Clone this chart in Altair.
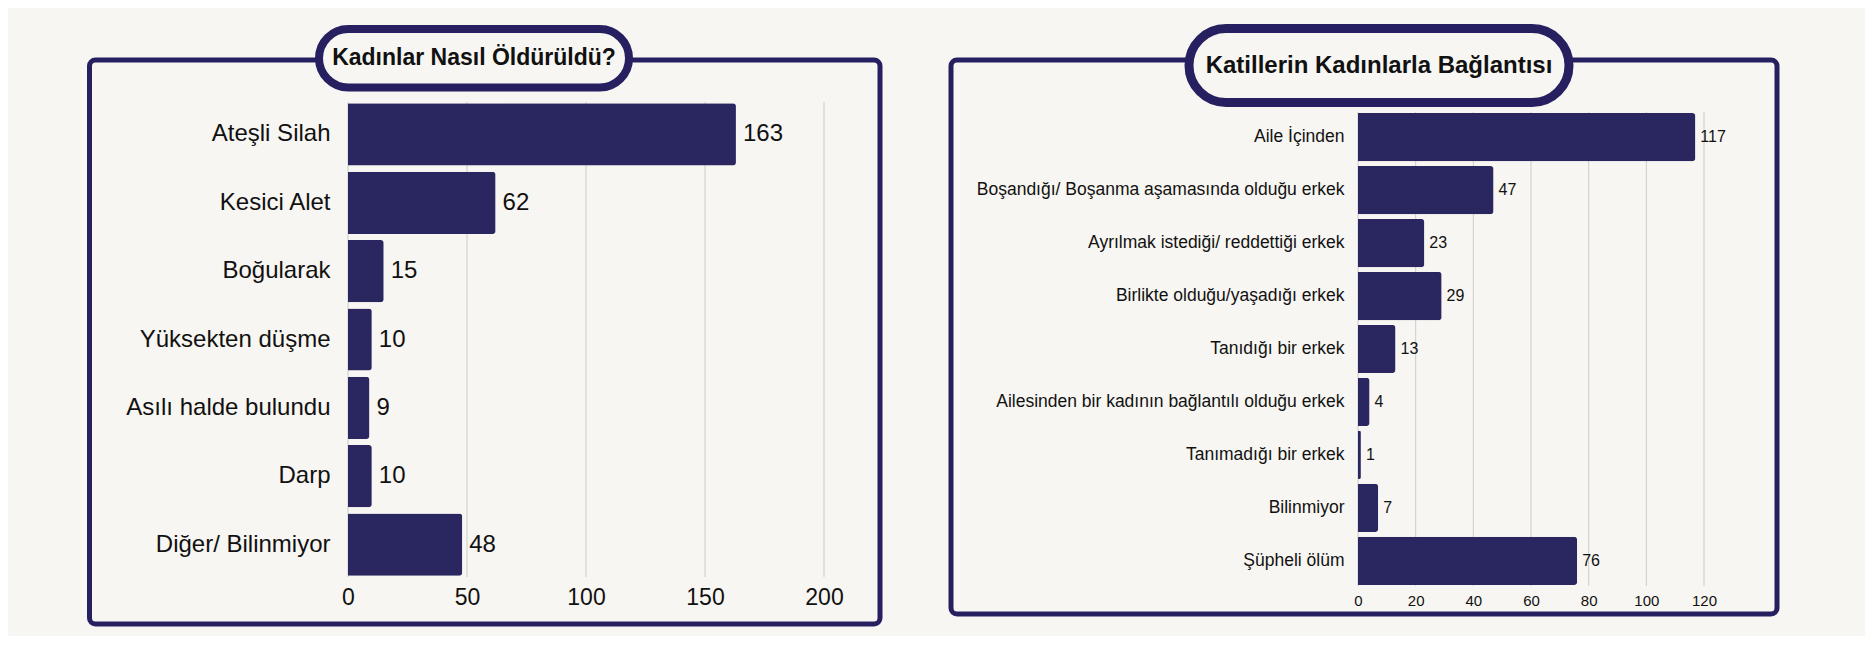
import altair as alt
import pandas as pd

# ---- data ----
methods = ["Ateşli Silah", "Kesici Alet", "Boğularak", "Yüksekten düşme",
           "Asılı halde bulundu", "Darp", "Diğer/ Bilinmiyor"]
method_counts = [163, 62, 15, 10, 9, 10, 48]

relations = ["Aile İçinden",
             "Boşandığı/ Boşanma aşamasında olduğu erkek",
             "Ayrılmak istediği/ reddettiği erkek",
             "Birlikte olduğu/yaşadığı erkek",
             "Tanıdığı bir erkek",
             "Ailesinden bir kadının bağlantılı olduğu erkek",
             "Tanımadığı bir erkek",
             "Bilinmiyor",
             "Şüpheli ölüm"]
relation_counts = [117, 47, 23, 29, 13, 4, 1, 7, 76]

left_ticks = [0, 50, 100, 150, 200]
right_ticks = [0, 20, 40, 60, 80, 100, 120]

left_title = "Kadınlar Nasıl Öldürüldü?"
right_title = "Katillerin Kadınlarla Bağlantısı"

BG = "#f8f6f2"
NAVY = "#2a2660"
BORDER = "#261f60"
LABEL_FONT = "Liberation Sans Narrow, Liberation Sans"
TITLE_FONT = "Liberation Sans"


def panel(cats, vals, ticks, title, w, h, yrange, box, pill, title_pos,
          title_size, label_size, tick_size, value_size, label_pad,
          tick_pad, value_dx, pill_stroke):
    df = pd.DataFrame({"cat": cats, "val": vals})
    tdf = pd.DataFrame({"val": ticks})
    xscale = alt.Scale(domain=[ticks[0], ticks[-1]], nice=False)
    xaxis = alt.Axis(values=ticks, title=None, grid=False, domain=False, ticks=False,
                     labelFont=LABEL_FONT, labelFontSize=tick_size,
                     labelColor="#111111", labelPadding=tick_pad, labelFlush=False)
    x = alt.X("val:Q", scale=xscale, axis=xaxis)
    y = alt.Y("cat:N", sort=cats,
              scale=alt.Scale(range=yrange, paddingInner=0.09, paddingOuter=0.02),
              axis=alt.Axis(title=None, domain=False, ticks=False, grid=False,
                            labelFont=LABEL_FONT, labelFontSize=label_size,
                            labelColor="#111111", labelPadding=label_pad,
                            labelLimit=600))
    one = alt.Data(values=[{"t": title}])
    frame = alt.Chart(one).mark_rect(filled=False, stroke=BORDER, strokeWidth=5,
                                     cornerRadius=6).encode(
        x=alt.value(box[0]), x2=alt.value(box[1]),
        y=alt.value(box[2]), y2=alt.value(box[3]))
    grid = alt.Chart(tdf).mark_rule(color="#cccccc", strokeWidth=1).encode(
        x=x, y=alt.value(yrange[0]), y2=alt.value(yrange[1]))
    bars = alt.Chart(df).mark_bar(color=NAVY, cornerRadiusEnd=3).encode(x=x, y=y)
    labels = alt.Chart(df).mark_text(align="left", baseline="middle", dx=value_dx,
                                     font=LABEL_FONT, fontSize=value_size,
                                     color="#111111").encode(
        x=x, y=y, text="val:Q")
    pill_rect = alt.Chart(one).mark_rect(fill=BG, stroke=BORDER,
                                         strokeWidth=pill_stroke,
                                         cornerRadius=(pill[3] - pill[2]) / 2).encode(
        x=alt.value(pill[0]), x2=alt.value(pill[1]),
        y=alt.value(pill[2]), y2=alt.value(pill[3]))
    pill_text = alt.Chart(one).mark_text(font=TITLE_FONT, fontWeight="bold",
                                         fontSize=title_size, color="#111111",
                                         align="center", baseline="middle").encode(
        x=alt.value(title_pos[0]), y=alt.value(title_pos[1]), text="t:N")
    return alt.layer(frame, grid, bars, labels, pill_rect, pill_text).properties(
        width=w, height=h)


left = panel(methods, method_counts, left_ticks, left_title, 476, 475, [0, 475],
             box=(-258.5, 532, -42, 522), pill=(-29, 281, -73, -14.5),
             title_pos=(126, -44), title_size=23, label_size=24, tick_size=23,
             value_size=24, label_pad=18, tick_pad=9, value_dx=7, pill_stroke=8)

right = panel(relations, relation_counts, right_ticks, right_title, 346, 484, [10, 484],
              box=(-407, 419, -42, 512), pill=(-169, 211, -73.5, 0.5),
              title_pos=(21, -36.5), title_size=24, label_size=17.5, tick_size=15,
              value_size=16, label_pad=14, tick_pad=7, value_dx=5, pill_stroke=9)

chart = alt.hconcat(left, right, spacing=65).properties(
    padding={"left": 79, "top": 16, "right": 85, "bottom": 9},
    background=BG,
).configure_view(stroke=None)

chart.save("out.html", embed_options={"renderer": "svg", "actions": False})
